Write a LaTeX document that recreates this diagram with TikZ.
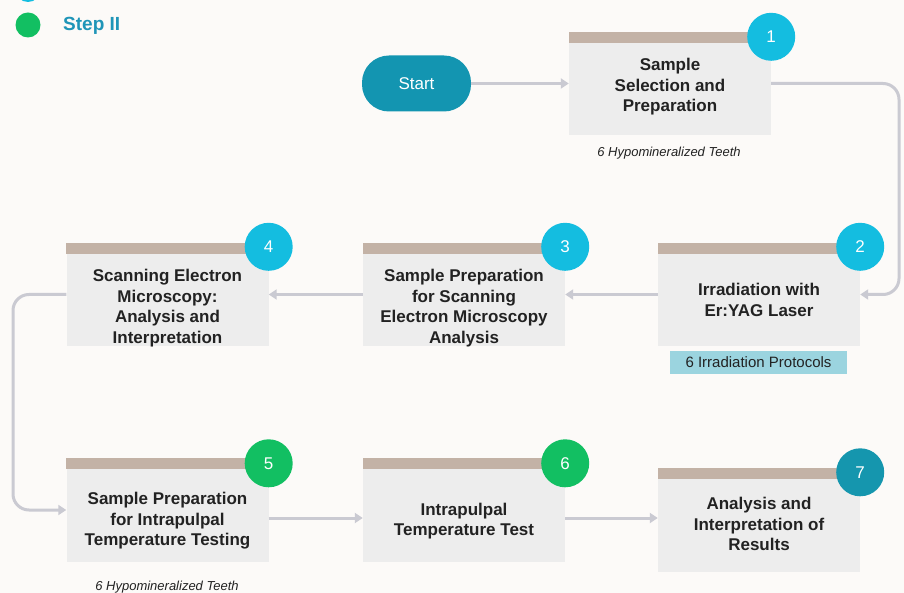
\documentclass[tikz,border=0pt]{standalone}
\usepackage{fontspec}
\setmainfont{Liberation Sans}
\usetikzlibrary{arrows.meta}
\definecolor{bgc}{HTML}{FCFAF8}
\definecolor{boxc}{HTML}{EDEDED}
\definecolor{barc}{HTML}{C3B2A6}
\definecolor{cyanc}{HTML}{14BDE0}
\definecolor{greenc}{HTML}{12BF62}
\definecolor{tealc}{HTML}{1596AE}
\definecolor{startc}{HTML}{1395B1}
\definecolor{arrc}{HTML}{CACAD2}
\definecolor{protc}{HTML}{9BD4DF}
\definecolor{legc}{HTML}{1F95B8}
\definecolor{txtc}{HTML}{222222}
\tikzset{
  stepbox/.style={rectangle, fill=boxc, inner sep=0pt, minimum width=202pt, minimum height=103pt},
  steptext/.style={align=center, text=txtc, font=\fontsize{17}{20.5}\selectfont\bfseries, inner sep=0pt},
  numcirc/.style={circle, inner sep=0pt, minimum size=48pt, text=white, font=\fontsize{17}{20}\selectfont},
  conn/.style={draw=arrc, line width=3pt, -{Triangle[length=8pt,width=10pt]}},
  note/.style={text=txtc, font=\fontsize{13}{15}\selectfont\itshape, inner sep=0pt},
  legdot/.style={circle, inner sep=0pt, minimum size=25pt},
  legtext/.style={text=legc, font=\fontsize{19}{22}\selectfont\bfseries, inner sep=0pt, anchor=west}
}
\begin{document}
\begin{tikzpicture}[x=1pt,y=-1pt]
\fill[bgc] (0,0) rectangle (904,593);
\useasboundingbox (0,0) rectangle (904,593);
% legend
\node[legdot, fill=cyanc] (g1) at (28,-10.5) {};
\node[legtext] (l1) at (63,-10.5) {Step I};
\node[legdot, fill=greenc] (g2) at (28,25) {};
\node[legtext] (l2) at (63,26) {Step II};
% start
\node[rectangle, rounded corners=27pt, fill=startc, minimum width=109pt, minimum height=56pt, text=white, font=\fontsize{17}{20}\selectfont, inner sep=0pt] (st) at (416.5,83.5) {Start};
% step boxes
\node[stepbox] (s1) at (670,83.5) {};
\node[stepbox] (s2) at (759,294.5) {};
\node[stepbox] (s3) at (464,294.5) {};
\node[stepbox] (s4) at (167.5,294.5) {};
\node[stepbox] (s5) at (167.5,510) {};
\node[stepbox] (s6) at (464,510) {};
\node[stepbox] (s7) at (759,520) {};
\foreach \s in {s1,s2,s3,s4,s5,s6,s7}{
  \fill[barc] (\s.north west) rectangle ([yshift=-11pt]\s.north east);
}
% texts
\node[steptext] (t1) at (670,87) {Sample\\Selection and\\Preparation};
\node[steptext] (t2) at (759,300) {Irradiation with\\Er:YAG Laser};
\node[steptext] (t3) at (464,308) {Sample Preparation\\for Scanning\\Electron Microscopy\\Analysis};
\node[steptext] (t4) at (167.5,308) {Scanning Electron\\Microscopy:\\Analysis and\\Interpretation};
\node[steptext] (t5) at (167.5,521) {Sample Preparation\\for Intrapulpal\\Temperature Testing};
\node[steptext] (t6) at (464,521) {Intrapulpal\\Temperature Test};
\node[steptext] (t7) at (759,524) {Analysis and\\Interpretation of\\Results};
% number circles
\node[numcirc, fill=cyanc] (c1) at ([yshift=-5pt]s1.north east) {1};
\node[numcirc, fill=cyanc] (c2) at ([yshift=-4pt]s2.north east) {2};
\node[numcirc, fill=cyanc] (c3) at ([yshift=-4pt]s3.north east) {3};
\node[numcirc, fill=cyanc] (c4) at ([yshift=-4pt]s4.north east) {4};
\node[numcirc, fill=greenc] (c5) at ([yshift=-5pt]s5.north east) {5};
\node[numcirc, fill=greenc] (c6) at ([yshift=-5pt]s6.north east) {6};
\node[numcirc, fill=tealc] (c7) at ([yshift=-4pt]s7.north east) {7};
% notes
\node[note] (n1) at (669,153) {6 Hypomineralized Teeth};
\node[note] (n5) at (167,587) {6 Hypomineralized Teeth};
\node[rectangle, fill=protc, minimum width=177pt, minimum height=23pt, inner sep=0pt, text=txtc, font=\fontsize{15}{17}\selectfont] (p2) at (758.5,362.5) {6 Irradiation Protocols};
% connectors
\coordinate (r1) at (899,83.5);
\coordinate (l4) at (13,294.5);
\draw[conn] (st.east) -- (s1.west);
\draw[conn, rounded corners=16pt] (s1.east) -- (r1) -- (r1 |- s2.east) -- (s2.east);
\draw[conn] (s2.west) -- (s3.east);
\draw[conn] (s3.west) -- (s4.east);
\draw[conn, rounded corners=16pt] (s4.west) -- (l4) -- (l4 |- s5.west) -- (s5.west);
\draw[conn] ([yshift=-8pt]s5.east) -- ([yshift=-8pt]s6.west);
\draw[conn] ([yshift=-8pt]s6.east) coordinate (a6) -- (a6 -| s7.west);
\end{tikzpicture}
\end{document}
